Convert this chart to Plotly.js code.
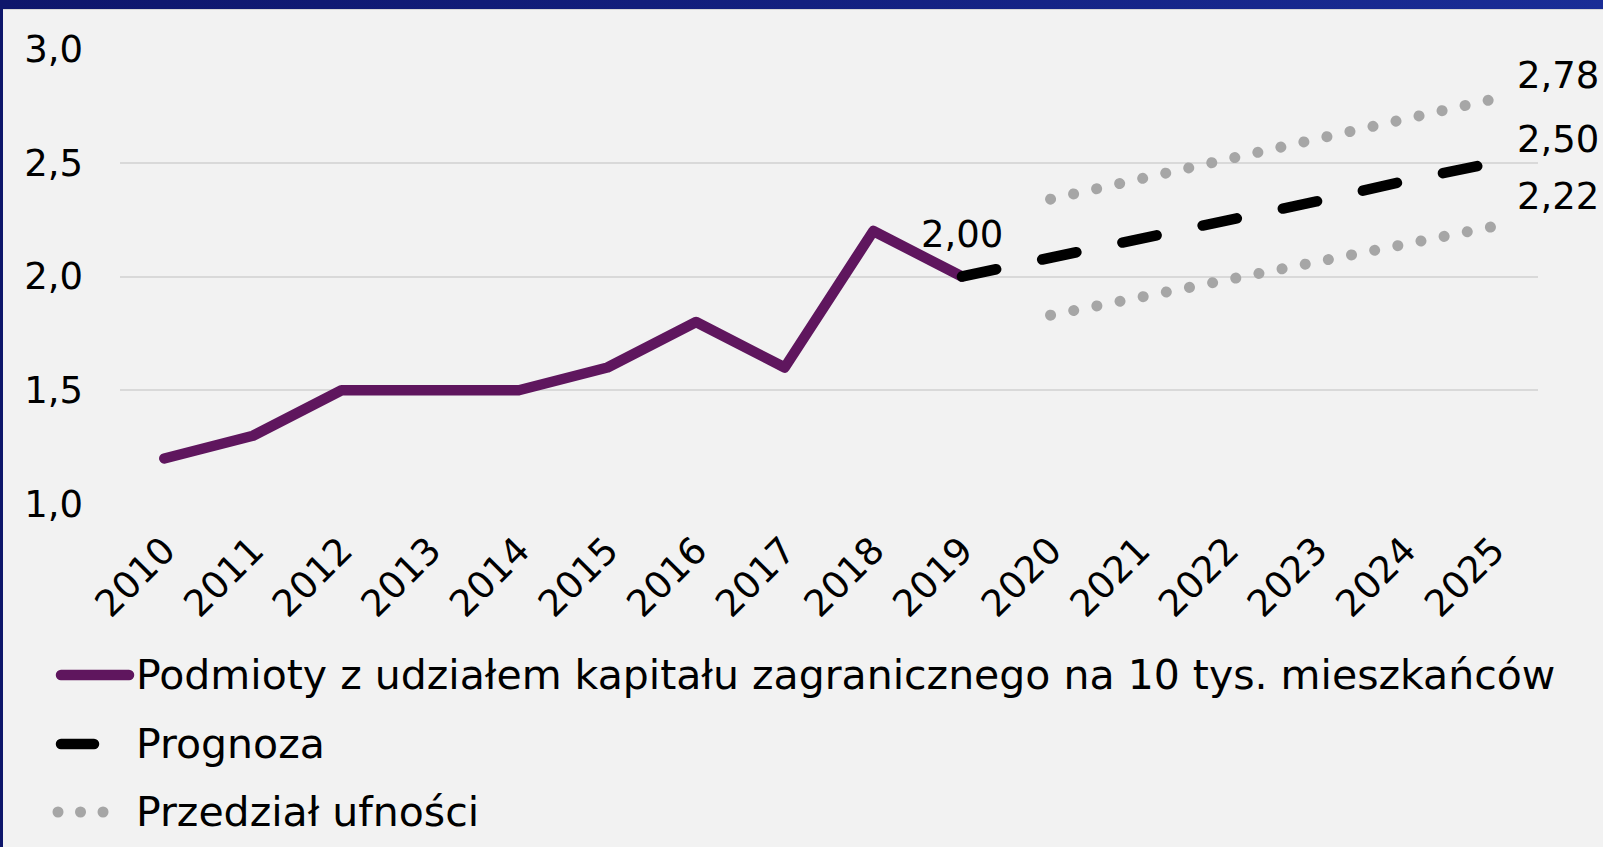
<!DOCTYPE html>
<html>
<head>
<meta charset="utf-8">
<script src="https://cdn.plot.ly/plotly-3.0.1.min.js"></script>
<style>
  html, body { margin: 0; padding: 0; background: #f2f2f2; overflow: hidden; }
  #wrap { position: relative; width: 1603px; height: 847px; }
  #chart { position: absolute; left: 0; top: 0; width: 1603px; height: 847px; }
  #topband { position: absolute; left: 0; top: 0; width: 1603px; height: 9px;
    background: linear-gradient(90deg, #0e166b 0%, #13207f 50%, #1a2d96 100%);
    border-bottom: 1px solid #d6d6d6; z-index: 5; }
  #leftband { position: absolute; left: 0; top: 0; width: 3px; height: 847px; background: #0e166b; z-index: 5; }
  .js-line { stroke-linecap: round; stroke-linejoin: round; }
  .shapelayer path { stroke-linecap: round; }
</style>
</head>
<body>
<div id="wrap">
  <div id="chart"></div>
  <div id="topband"></div>
  <div id="leftband"></div>
</div>
<script>
// ---- data ----
const years = ["2010","2011","2012","2013","2014","2015","2016","2017","2018","2019","2020","2021","2022","2023","2024","2025"];
const histYears = ["2010","2011","2012","2013","2014","2015","2016","2017","2018","2019"];
const histValues = [1.2, 1.3, 1.5, 1.5, 1.5, 1.6, 1.8, 1.6, 2.2, 2.0];
const forecastYears = ["2019","2020","2021","2022","2023","2024","2025"];
const forecastValues = [2.00, 2.08, 2.17, 2.25, 2.33, 2.42, 2.50];
const ciYears = ["2020","2021","2022","2023","2024","2025"];
const ciUpper = [2.34, 2.43, 2.52, 2.60, 2.69, 2.78];
const ciLower = [1.83, 1.91, 1.99, 2.06, 2.14, 2.22];
const legendLabels = ["Podmioty z udziałem kapitału zagranicznego na 10 tys. mieszkańców", "Prognoza", "Przedział ufności"];

// ---- style ----
const FONT = "DejaVu Sans, sans-serif";
const PURPLE = "#5f165e";
const GREY = "#a6a6a6";
const W = 1603, H = 847;
const M = {l: 120, r: 65, t: 49, b: 343};
const PW = W - M.l - M.r, PH = H - M.t - M.b;
const px2x = p => (p - M.l) / PW;
const py2y = p => (H - M.b - p) / PH;
const fmt = v => v.toFixed(2).replace('.', ',');
const idx = y => years.indexOf(y);

const traces = [
  {x: histYears, y: histValues, mode: 'lines', line: {color: PURPLE, width: 10.5}, showlegend: false, hoverinfo: 'skip'},
  {x: forecastYears, y: forecastValues, mode: 'lines', line: {color: '#000000', width: 10.5, dash: '35px,47px'}, showlegend: false, hoverinfo: 'skip'},
  {x: ciYears, y: ciUpper, mode: 'lines', line: {color: GREY, width: 11, dash: '0.01px,23.6px'}, showlegend: false, hoverinfo: 'skip'},
  {x: ciYears, y: ciLower, mode: 'lines', line: {color: GREY, width: 11, dash: '0.01px,23.6px'}, showlegend: false, hoverinfo: 'skip'}
];

const lastHist = histValues.length - 1;
const nf = forecastValues.length - 1, nc = ciUpper.length - 1;
function valAnn(xcat, yval, xanchor, xshift, yshift) {
  return {x: idx(xcat), y: yval, xref: 'x', yref: 'y', text: fmt(yval), showarrow: false,
    xanchor: xanchor, yanchor: 'middle', xshift: xshift, yshift: yshift,
    font: {family: FONT, size: 37, color: '#000'}};
}
const annotations = [
  valAnn(histYears[lastHist], histValues[lastHist], 'center', 0, 42),
  valAnn(ciYears[nc], ciUpper[nc], 'left', 21, 24),
  valAnn(forecastYears[nf], forecastValues[nf], 'left', 21, 23),
  valAnn(ciYears[nc], ciLower[nc], 'left', 21, 30)
];

// custom legend
const legRows = [675, 744, 812];
legendLabels.forEach((t, i) => {
  annotations.push({x: px2x(134), y: py2y(legRows[i]), xref: 'paper', yref: 'paper', text: t, showarrow: false,
    xanchor: 'left', yanchor: 'middle', font: {family: FONT, size: 41, color: '#000'}});
});
const shapes = [
  {type: 'line', xref: 'paper', yref: 'paper', x0: px2x(61), x1: px2x(129), y0: py2y(legRows[0]), y1: py2y(legRows[0]), line: {color: PURPLE, width: 10.5}},
  {type: 'line', xref: 'paper', yref: 'paper', x0: px2x(61), x1: px2x(94), y0: py2y(legRows[1]), y1: py2y(legRows[1]), line: {color: '#000', width: 10.5}},
  {type: 'line', xref: 'paper', yref: 'paper', x0: px2x(58), x1: px2x(103.2), y0: py2y(legRows[2]), y1: py2y(legRows[2]), line: {color: GREY, width: 11, dash: '0.01px,22.5px'}}
];

const layout = {
  width: W, height: H,
  margin: M,
  paper_bgcolor: '#f2f2f2', plot_bgcolor: '#f2f2f2',
  separators: ', ',
  showlegend: false,
  font: {family: FONT, color: '#000'},
  xaxis: {type: 'category', categoryarray: years, categoryorder: 'array', range: [-0.5, years.length - 0.5],
    showgrid: false, zeroline: false, showline: false, ticks: '', tickangle: -45, ticklabelstandoff: 16,
    tickfont: {family: FONT, size: 37, color: '#000'}, fixedrange: true},
  yaxis: {range: [1, 3], dtick: 0.5, tick0: 1, tickformat: '.1f', showgrid: true, gridcolor: '#d9d9d9', gridwidth: 2,
    zeroline: false, showline: false, ticks: '', ticklabelstandoff: 36,
    tickfont: {family: FONT, size: 37, color: '#000'}, fixedrange: true},
  annotations: annotations,
  shapes: shapes
};

Plotly.newPlot('chart', traces, layout, {displayModeBar: false, staticPlot: true});
</script>
</body>
</html>
